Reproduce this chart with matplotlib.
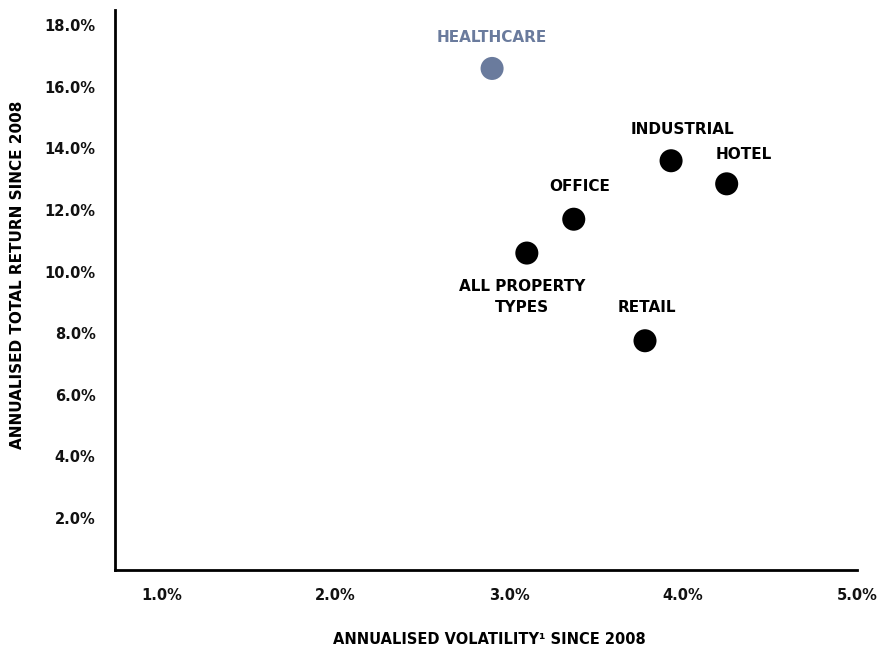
import matplotlib.pyplot as plt
from matplotlib.ticker import FuncFormatter

plt.rcParams['font.family'] = ['DejaVu Sans']
plt.rcParams['font.weight'] = 'bold'

# annualised volatility (%) vs annualised total return (%) since 2008
sectors = ['HEALTHCARE', 'INDUSTRIAL', 'HOTEL', 'OFFICE', 'ALL PROPERTY\nTYPES', 'RETAIL']
volatility = [2.90, 3.93, 4.25, 3.37, 3.10, 3.78]
total_return = [16.6, 13.6, 12.85, 11.7, 10.6, 7.75]
colors = ['#6a7b9d', 'black', 'black', 'black', 'black', 'black']
# label offsets in points (dx, dy), text centred on the offset
offsets = [(0, 22.0), (8.4, 22.8), (12.2, 20.9), (4.3, 23.5), (-3.6, -31.3), (1.4, 23.8)]

x_ticks = [1, 2, 3, 4, 5]
y_ticks = [2, 4, 6, 8, 10, 12, 14, 16, 18]

fig = plt.figure(figsize=(8.79, 6.48), dpi=100)
ax = fig.add_axes([0.1308, 0.1204, 0.8442, 0.8642])

ax.scatter(volatility, total_return, s=275, c=colors, zorder=3, linewidths=0)

for name, x, y, c, (dx, dy) in zip(sectors, volatility, total_return, colors, offsets):
    ax.annotate(name, (x, y), xytext=(dx, dy), textcoords='offset points',
                ha='center', va='center', fontsize=11, fontweight='bold', color=c,
                linespacing=1.5)

ax.set_xlim(0.73, 5.0)
ax.set_ylim(0.3, 18.5)
ax.set_xticks(x_ticks)
ax.set_yticks(y_ticks)
ax.xaxis.set_major_formatter(FuncFormatter(lambda v, p: f'{v:.1f}%'))
ax.yaxis.set_major_formatter(FuncFormatter(lambda v, p: f'{v:.1f}%'))
ax.tick_params(axis='both', length=0, labelsize=10.5, colors='#111111')
ax.tick_params(axis='x', pad=13)
ax.tick_params(axis='y', pad=14)
for lab in ax.get_xticklabels() + ax.get_yticklabels():
    lab.set_fontweight('bold')

for side in ['top', 'right']:
    ax.spines[side].set_visible(False)
for side in ['left', 'bottom']:
    ax.spines[side].set_linewidth(2)
    ax.spines[side].set_color('black')

ax.set_xlabel('ANNUALISED VOLATILITY¹ SINCE 2008', fontsize=10.5, fontweight='bold')
ax.set_ylabel('ANNUALISED TOTAL RETURN SINCE 2008', fontsize=11, fontweight='bold')
ax.xaxis.set_label_coords(0.505, -0.111)
ax.yaxis.set_label_coords(-0.121, 0.527)

fig.savefig('out.png', dpi=100)
